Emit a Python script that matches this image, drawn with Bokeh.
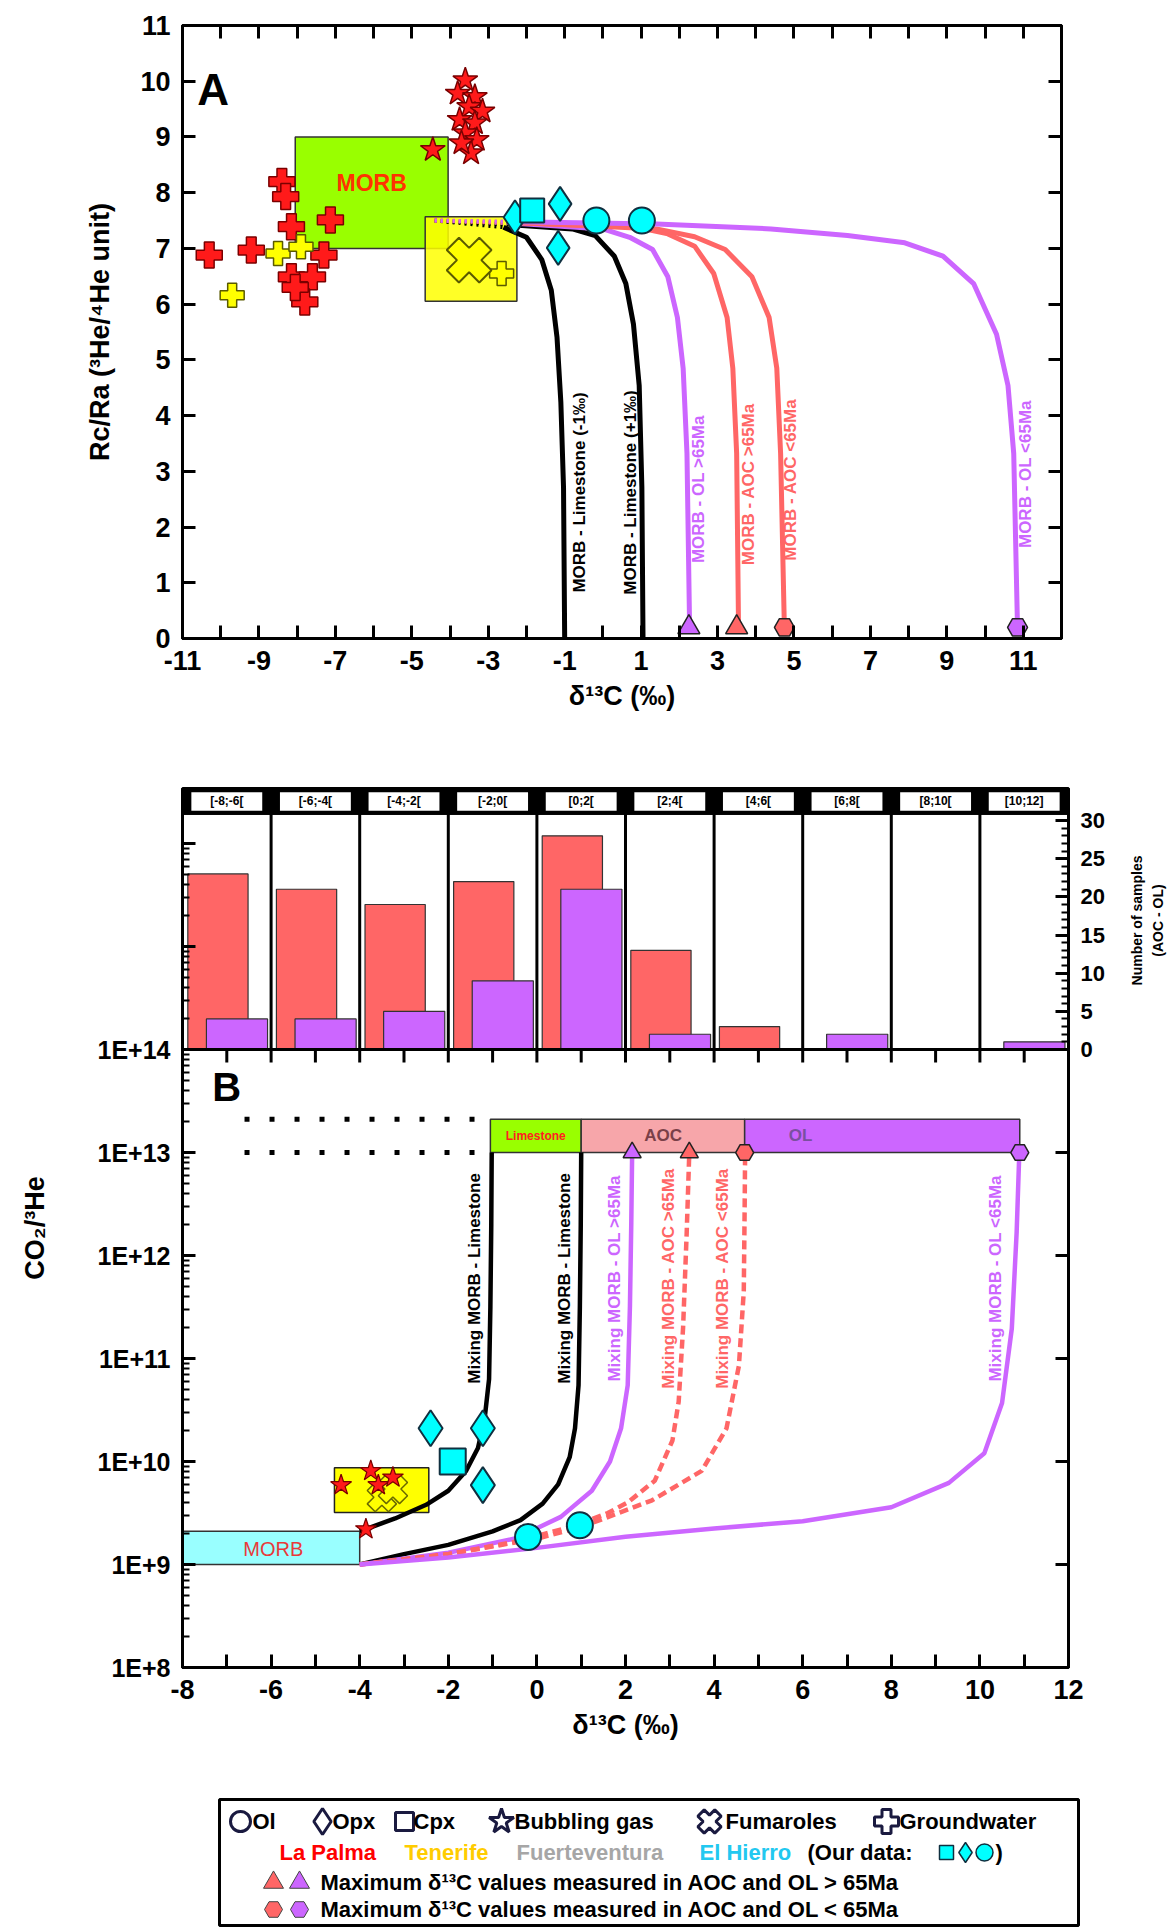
import math
from bokeh.plotting import figure
from bokeh.models import (Range1d, LinearAxis, FixedTicker, CustomJSTickFormatter, Span, LinearScale)
from bokeh.layouts import column, row
from bokeh.core.properties import value
from bokeh.embed import file_html
from bokeh.resources import INLINE

FONT = "Liberation Sans"
RED = "#FF6666"
PURPLE = "#CC66FF"
CYAN = "#00FFFF"
LP_RED = "#FF1A1A"
YEL = "#FFFF00"

# ---------------- Panel A data ----------------
A_black1_x = [-4.4, -2.6, -2.0, -1.6, -1.35, -1.2, -1.1, -1.03, -1.0]
A_black1_y = [7.5, 7.38, 7.2, 6.8, 6.25, 5.4, 4.24, 2.71, 0.0]
A_black2_x = [-4.4, -2.3, -0.8, -0.2, 0.3, 0.6, 0.8, 0.95, 1.02, 1.05]
A_black2_y = [7.5, 7.42, 7.35, 7.23, 6.86, 6.37, 5.64, 4.54, 2.71, 0.0]
A_purple1_x = [-4.4, -2.3, 0.0, 0.7, 1.3, 1.7, 1.95, 2.1, 2.2, 2.27]
A_purple1_y = [7.5, 7.45, 7.35, 7.2, 6.98, 6.49, 5.76, 4.85, 3.32, 0.15]
A_red1_x = [-4.4, -2.3, 0.9, 1.7, 2.4, 2.9, 3.25, 3.4, 3.5, 3.55]
A_red1_y = [7.5, 7.46, 7.38, 7.26, 7.04, 6.55, 5.76, 4.85, 3.32, 0.15]
A_red2_x = [-4.4, -2.3, 1.4, 2.4, 3.2, 3.9, 4.35, 4.55, 4.65, 4.75]
A_red2_y = [7.5, 7.47, 7.35, 7.21, 6.98, 6.49, 5.76, 4.85, 3.32, 0.15]
A_purple2_x = [-4.4, -2.3, 1.4, 4.4, 6.4, 7.9, 8.9, 9.7, 10.3, 10.6, 10.75, 10.85]
A_purple2_y = [7.5, 7.48, 7.44, 7.35, 7.23, 7.1, 6.86, 6.37, 5.46, 4.54, 3.32, 0.15]

A_curve_labels = ["MORB - Limestone (-1‰)", "MORB - Limestone (+1‰)", "MORB - OL >65Ma",
                  "MORB - AOC >65Ma", "MORB - AOC <65Ma", "MORB - OL <65Ma"]
A_label_x = [-0.6, 0.72, 2.5, 3.8, 4.92, 11.05]
A_label_y = [2.62, 2.62, 2.68, 2.77, 2.85, 2.95]

A_morb_box = dict(left=-8.05, right=-4.05, bottom=7.0, top=9.0)
A_tf_box = dict(left=-4.65, right=-2.25, bottom=6.05, top=7.57)

A_lp_star_x = [-4.45, -3.6, -3.8, -3.35, -3.5, -3.15, -3.75, -3.35, -3.6, -3.3, -3.45, -3.7]
A_lp_star_y = [8.77, 10.02, 9.78, 9.72, 9.54, 9.46, 9.31, 9.25, 9.07, 8.95, 8.71, 8.89]
A_lp_plus_x = [-8.4, -8.3, -8.15, -7.13, -10.3, -9.2, -7.3, -8.15, -7.6, -7.8, -8.05]
A_lp_plus_y = [8.2, 7.93, 7.39, 7.51, 6.88, 6.97, 6.88, 6.49, 6.49, 6.04, 6.3]
A_tf_plus_x = [-9.7, -8.5, -7.9, -2.65]
A_tf_plus_y = [6.16, 6.91, 7.03, 6.55]
A_tf_x_x = [-3.5]
A_tf_x_y = [6.79]
A_eh_opx_x = [-2.3, -1.12, -1.17]
A_eh_opx_y = [7.56, 7.8, 7.01]
A_eh_cpx_x = [-1.85]
A_eh_cpx_y = [7.68]
A_eh_ol_x = [-0.17, 1.02]
A_eh_ol_y = [7.5, 7.5]
A_max_old_x = [2.25, 3.5]      # triangles (>65Ma): purple OL, red AOC
A_max_new_x = [4.75, 10.85]    # hexagons (<65Ma): red AOC, purple OL

# ---------------- Histogram data ----------------
hist_edges = [-8, -6, -4, -2, 0, 2, 4, 6, 8, 10, 12]
hist_labels = ["[-8;-6[", "[-6;-4[", "[-4;-2[", "[-2;0[", "[0;2[", "[2;4[", "[4;6[", "[6;8[", "[8;10[", "[10;12]"]
hist_aoc = [23, 21, 19, 22, 28, 13, 3, 0, 0, 0]
hist_ol = [4, 4, 5, 9, 21, 2, 0, 2, 0, 1]
hist_title = ["Number of samples", "(AOC - OL)"]

# ---------------- Panel B data ----------------
B_black1_x = [-4.0, -3.2, -2.5, -2.0, -1.6, -1.33, -1.18, -1.08, -1.05, -1.03, -1.02]
B_black1_y = [2.1e9, 2.8e9, 3.8e9, 5.2e9, 8.1e9, 1.35e10, 2.6e10, 6.3e10, 3.2e11, 2.0e12, 1.0e13]
B_black2_x = [-4.0, -3.0, -2.0, -1.0, -0.37, 0.13, 0.48, 0.74, 0.86, 0.94, 0.97, 0.99, 1.0]
B_black2_y = [1.0e9, 1.26e9, 1.55e9, 2.1e9, 2.7e9, 3.9e9, 6.0e9, 1.1e10, 2.1e10, 5.5e10, 3.2e11, 2.0e12, 1.0e13]
B_purple1_x = [-4.0, -2.0, -0.47, 0.54, 1.24, 1.65, 1.9, 2.05, 2.1, 2.13, 2.15]
B_purple1_y = [1.0e9, 1.3e9, 1.8e9, 2.9e9, 5.2e9, 1.0e10, 2.1e10, 5.5e10, 3.2e11, 2.0e12, 1.0e13]
B_red1_x = [-4.0, -2.0, -0.5, 0.8, 1.6, 2.05, 2.66, 3.06, 3.2, 3.3, 3.38, 3.44]
B_red1_y = [1.0e9, 1.26e9, 1.66e9, 2.34e9, 3.16e9, 4.0e9, 6.5e9, 1.6e10, 3.8e10, 2.0e11, 1.6e12, 1.0e13]
B_red2_x = [-4.0, -2.0, 0.0, 1.04, 2.6, 3.72, 4.28, 4.56, 4.67, 4.69, 4.7]
B_red2_y = [1.0e9, 1.26e9, 1.78e9, 2.34e9, 4.2e9, 8.1e9, 2.1e10, 8.5e10, 4.5e11, 3.0e12, 1.0e13]
B_purple2_x = [-4.0, -2.0, 0.0, 2.0, 4.0, 6.0, 8.0, 9.3, 10.1, 10.5, 10.72, 10.83, 10.89]
B_purple2_y = [1.0e9, 1.17e9, 1.45e9, 1.86e9, 2.24e9, 2.63e9, 3.6e9, 6.2e9, 1.2e10, 3.7e10, 1.95e11, 1.7e12, 1.0e13]

B_curve_labels = ["Mixing MORB - Limestone", "Mixing MORB - Limestone", "Mixing MORB - OL >65Ma",
                  "Mixing MORB - AOC >65Ma", "Mixing MORB - AOC <65Ma", "Mixing MORB - OL <65Ma"]
B_label_x = [-1.4, 0.62, 1.76, 2.96, 4.2, 10.36]
B_label_y = [6.0e11, 6.0e11, 6.0e11, 6.0e11, 6.0e11, 6.0e11]

B_morb_box = dict(left=-8.0, right=-4.0, bottom=1.0e9, top=2.1e9)
B_tf_box = dict(left=-4.57, right=-2.44, bottom=3.2e9, top=8.7e9)
B_end_bottom, B_end_top = 1.0e13, 2.1e13
B_end_names = ["Limestone", "AOC", "OL"]
B_end_left = [-1.05, 1.0, 4.69]
B_end_right = [1.0, 4.69, 10.9]
B_dot_x = [-6.6, -1.1]

B_lp_star_x = [-4.42, -3.75, -3.58, -3.25, -3.86]
B_lp_star_y = [5.9e9, 8.1e9, 5.9e9, 7.0e9, 2.2e9]
B_tf_x_x = [-3.5, -3.25]
B_tf_x_y = [4.5e9, 5.4e9]
B_eh_opx_x = [-2.4, -1.22, -1.22]
B_eh_opx_y = [2.1e10, 2.1e10, 5.9e9]
B_eh_cpx_x = [-1.9]
B_eh_cpx_y = [1.0e10]
B_eh_ol_x = [-0.2, 0.97]
B_eh_ol_y = [1.85e9, 2.4e9]
B_max_old_x = [2.15, 3.44]
B_max_new_x = [4.69, 10.9]

# ---------------- helpers ----------------
BLANK = CustomJSTickFormatter(code="return '';")


def style_axis(ax, label_size="27px", tick_in=13, minor_in=0):
    ax.axis_line_width = 3
    ax.axis_line_color = "black"
    ax.major_tick_in = tick_in
    ax.major_tick_out = 0
    ax.major_tick_line_width = 3
    ax.major_tick_line_color = "black"
    ax.minor_tick_in = minor_in
    ax.minor_tick_out = 0
    ax.minor_tick_line_width = 2
    ax.minor_tick_line_color = "black"
    ax.major_label_text_font = FONT
    ax.major_label_text_font_style = "bold"
    ax.major_label_text_color = "black"
    ax.major_label_text_font_size = label_size
    ax.major_label_standoff = 12
    ax.axis_label_text_font = FONT
    ax.axis_label_text_font_style = "bold"
    ax.axis_label_text_font_size = "27px"
    ax.axis_label_text_color = "black"


def base_fig(**kw):
    p = figure(output_backend="svg", toolbar_location=None, tools="", **kw)
    p.grid.visible = False
    p.outline_line_color = "black"
    p.outline_line_width = 3
    p.background_fill_color = "white"
    p.border_fill_color = "white"
    return p


odd_fmt = CustomJSTickFormatter(code="var t = Math.round(tick); return (Math.abs(t) % 2 === 1) ? String(t) : '';")
even_fmt = CustomJSTickFormatter(code="var t = Math.round(tick); return (Math.abs(t) % 2 === 0) ? String(t) : '';")

LEFT = 182

# ================= Panel A =================
pA = base_fig(frame_width=879, frame_height=613, min_border_left=LEFT, min_border_right=100,
              min_border_top=25, min_border_bottom=140,
              x_range=Range1d(-11, 12), y_range=Range1d(0, 11))
xa_ticks = list(range(-11, 13))
ya_ticks = list(range(0, 12))
pA.xaxis.ticker = FixedTicker(ticks=xa_ticks)
pA.xaxis.formatter = odd_fmt
pA.yaxis.ticker = FixedTicker(ticks=ya_ticks)
style_axis(pA.xaxis[0])
style_axis(pA.yaxis[0])
pA.xaxis.axis_label = "δ¹³C (‰)"
pA.yaxis.axis_label = "Rc/Ra (³He/⁴He unit)"
pA.xaxis.axis_label_standoff = 8
pA.yaxis.axis_label_standoff = 22
top_a = LinearAxis(ticker=FixedTicker(ticks=xa_ticks), formatter=BLANK)
style_axis(top_a)
pA.add_layout(top_a, "above")
right_a = LinearAxis(ticker=FixedTicker(ticks=ya_ticks), formatter=BLANK)
style_axis(right_a)
pA.add_layout(right_a, "right")

# boxes
pA.quad(line_color="#333333", line_width=1.5, fill_color="#99FF00", **A_morb_box)
pA.quad(line_color="#333333", line_width=1.5, fill_color=YEL, fill_alpha=0.85, **A_tf_box)
pA.text(x=[-6.05], y=[8.18], text=["MORB"], text_font=value(FONT), text_font_style="bold",
        text_font_size="23px", text_color="#FF3300", text_align="center", text_baseline="middle")

# mixing curves
curvesA = [(A_black1_x, A_black1_y, "black"), (A_black2_x, A_black2_y, "black"),
           (A_purple1_x, A_purple1_y, PURPLE), (A_red1_x, A_red1_y, RED),
           (A_red2_x, A_red2_y, RED), (A_purple2_x, A_purple2_y, PURPLE)]
for cx, cy, col in curvesA:
    pA.line(cx[:2], cy[:2], line_color=col, line_width=4, line_dash="2 4")
    pA.line(cx[1:], cy[1:], line_color=col, line_width=5)
for (cx, cy, col), lx, ly, lt in zip(curvesA, A_label_x, A_label_y, A_curve_labels):
    pA.text(x=[lx], y=[ly], text=[lt], angle=math.pi / 2, text_font=value(FONT),
            text_font_style="bold", text_font_size="17px", text_color=col,
            text_align="center", text_baseline="middle")

# markers
pA.scatter(A_lp_plus_x, A_lp_plus_y, marker="plus", size=26, fill_color=LP_RED, line_color="#7a0000", line_width=1.5)
pA.scatter(A_tf_plus_x, A_tf_plus_y, marker="plus", size=24, fill_color=YEL, line_color="#5a5a00", line_width=1.5)
pA.scatter(A_tf_x_x, A_tf_x_y, marker="plus", angle=math.pi / 4, size=46, fill_color=YEL, line_color="#5a5a00", line_width=2)
pA.scatter(A_lp_star_x, A_lp_star_y, marker="star", size=26, fill_color=LP_RED, line_color="#7a0000", line_width=1.5)
pA.scatter(A_eh_opx_x, A_eh_opx_y, marker="diamond", size=34, fill_color=CYAN, line_color="#103040", line_width=2)
pA.scatter(A_eh_cpx_x, A_eh_cpx_y, marker="square", size=24, fill_color=CYAN, line_color="#103040", line_width=2)
pA.scatter(A_eh_ol_x, A_eh_ol_y, marker="circle", size=26, fill_color=CYAN, line_color="#103040", line_width=2)
pA.scatter(A_max_old_x, [0.2, 0.2], marker="triangle", size=22, fill_color=[PURPLE, RED], line_color="#222222", line_width=1.5)
pA.scatter(A_max_new_x, [0.2, 0.2], marker="hex", size=20, fill_color=[RED, PURPLE], line_color="#222222", line_width=1.5)
pA.text(x=[-10.2], y=[9.85], text=["A"], text_font=value(FONT), text_font_style="bold",
        text_font_size="44px", text_color="black", text_align="center", text_baseline="middle")

# ================= Panel B + histogram (shared frame) =================
LOG_BOTTOM, LOG_SPLIT, LOG_TOP = 8.0, 14.0, 16.534
HIST_TOP = 34.2
HIST_BOTTOM = -HIST_TOP * (LOG_SPLIT - LOG_BOTTOM) / (LOG_TOP - LOG_SPLIT)
B_FRAME_H = 879

pB = base_fig(frame_width=886, frame_height=B_FRAME_H, min_border_left=LEFT, min_border_right=58,
              min_border_top=10, min_border_bottom=122,
              x_range=Range1d(-8, 12), y_range=Range1d(10 ** LOG_BOTTOM, 10 ** LOG_TOP),
              y_axis_type="log")
pB.extra_y_ranges = {"hist": Range1d(HIST_BOTTOM, HIST_TOP)}
pB.extra_y_scales = {"hist": LinearScale()}

xb_ticks = list(range(-8, 13))
pB.xaxis.ticker = FixedTicker(ticks=xb_ticks)
pB.xaxis.formatter = even_fmt
style_axis(pB.xaxis[0])
pB.xaxis.axis_label = "δ¹³C (‰)"
pB.xaxis.axis_label_standoff = 8

decades = list(range(8, 17))
pB.yaxis.ticker = FixedTicker(ticks=[10.0 ** k for k in decades],
                              minor_ticks=[m * 10.0 ** k for k in decades for m in range(2, 10)])
pB.yaxis.formatter = CustomJSTickFormatter(
    code="var e = Math.round(Math.log10(tick)); return e <= 14 ? '1E+' + e : '';")
style_axis(pB.yaxis[0], label_size="25px", minor_in=7)
pB.yaxis.axis_label = "CO₂/³He"
pB.yaxis.axis_label_standoff = 45

decade_pos = [HIST_BOTTOM + (k - LOG_BOTTOM) / (LOG_TOP - LOG_BOTTOM) * (HIST_TOP - HIST_BOTTOM)
              for k in range(9, 14)]
right_b = LinearAxis(y_range_name="hist",
                     ticker=FixedTicker(ticks=[0, 5, 10, 15, 20, 25, 30] + decade_pos,
                                        minor_ticks=[i for i in range(1, 31) if i % 5]),
                     formatter=CustomJSTickFormatter(
                         code="if (tick < -0.01) return ''; return String(Math.round(tick));"))
style_axis(right_b, label_size="22px", minor_in=7)
pB.add_layout(right_b, "right")

# histogram
centers = [(a + b) / 2 for a, b in zip(hist_edges[:-1], hist_edges[1:])]
lefts = hist_edges[:-1]
widths = [b - a for a, b in zip(hist_edges[:-1], hist_edges[1:])]
pB.quad(left=[l + 0.06 * w for l, w in zip(lefts, widths)], right=[l + 0.74 * w for l, w in zip(lefts, widths)],
        bottom=0, top=hist_aoc, y_range_name="hist", fill_color=RED, line_color="#333333", line_width=1.2)
pB.quad(left=[l + 0.27 * w for l, w in zip(lefts, widths)], right=[l + 0.96 * w for l, w in zip(lefts, widths)],
        bottom=0, top=hist_ol, y_range_name="hist", fill_color=PURPLE, line_color="#333333", line_width=1.2)
pB.segment(x0=hist_edges[1:-1], y0=0, x1=hist_edges[1:-1], y1=HIST_TOP, y_range_name="hist",
           line_color="black", line_width=3)
pB.quad(left=hist_edges[0], right=hist_edges[-1], bottom=30.8, top=HIST_TOP, y_range_name="hist",
        fill_color="black", line_color="black")
pB.quad(left=[l + 0.2 for l in lefts], right=[l + w - 0.2 for l, w in zip(lefts, widths)],
        bottom=31.3, top=33.7, y_range_name="hist", fill_color="white", line_color=None)
pB.text(x=centers, y=[32.5] * len(centers), text=hist_labels, y_range_name="hist",
        text_font=value(FONT), text_font_style="bold", text_font_size="12px", text_color="black",
        text_align="center", text_baseline="middle")
pB.add_layout(Span(location=10 ** LOG_SPLIT, dimension="width", line_color="black", line_width=3))
# top ticks of panel B along the separator
tick_len = 10 ** (LOG_SPLIT - 13 / 103.0)
inner_ticks = xb_ticks[1:-1]
pB.segment(x0=inner_ticks, y0=10 ** LOG_SPLIT, x1=inner_ticks, y1=tick_len, line_color="black", line_width=3)

# end-member band
pB.segment(x0=B_dot_x[0], y0=B_end_bottom, x1=B_dot_x[1], y1=B_end_bottom, line_color="black", line_width=5, line_dash="5 20")
pB.segment(x0=B_dot_x[0], y0=B_end_top, x1=B_dot_x[1], y1=B_end_top, line_color="black", line_width=5, line_dash="5 20")
pB.quad(left=B_end_left, right=B_end_right, bottom=B_end_bottom, top=B_end_top,
        fill_color=["#99FF00", "#F7A6AA", PURPLE], line_color="#333333", line_width=1.5)
pB.text(x=[(B_end_left[0] + B_end_right[0]) / 2], y=[1.46e13], text=[B_end_names[0]], text_font=value(FONT),
        text_font_style="bold", text_font_size="12px", text_color="#FF2020", text_align="center", text_baseline="middle")
pB.text(x=[2.85], y=[1.46e13], text=[B_end_names[1]], text_font=value(FONT),
        text_font_style="bold", text_font_size="17px", text_color="#7A4048", text_align="center", text_baseline="middle")
pB.text(x=[5.95], y=[1.46e13], text=[B_end_names[2]], text_font=value(FONT),
        text_font_style="bold", text_font_size="17px", text_color="#7A50A0", text_align="center", text_baseline="middle")

# boxes
pB.quad(line_color="#333333", line_width=1.5, fill_color="#99FFFF", **B_morb_box)
pB.text(x=[-5.95], y=[1.4e9], text=["MORB"], text_font=value(FONT), text_font_size="20px",
        text_color="#E83A3A", text_align="center", text_baseline="middle")
pB.quad(line_color="#222222", line_width=1.5, fill_color=YEL, **B_tf_box)

# curves
pB.line(B_black1_x, B_black1_y, line_color="black", line_width=4.5)
pB.line(B_black2_x, B_black2_y, line_color="black", line_width=4.5)
pB.line(B_purple1_x, B_purple1_y, line_color=PURPLE, line_width=4.5)
pB.line(B_red1_x, B_red1_y, line_color=RED, line_width=4.5, line_dash="9 5")
pB.line(B_red2_x, B_red2_y, line_color=RED, line_width=4.5, line_dash="9 5")
pB.line(B_purple2_x, B_purple2_y, line_color=PURPLE, line_width=4.5)
colsB = ["black", "black", PURPLE, RED, RED, PURPLE]
for lx, ly, lt, col in zip(B_label_x, B_label_y, B_curve_labels, colsB):
    pB.text(x=[lx], y=[ly], text=[lt], angle=math.pi / 2, text_font=value(FONT),
            text_font_style="bold", text_font_size="17px", text_color=col,
            text_align="center", text_baseline="middle")

# markers
pB.scatter(B_tf_x_x, B_tf_x_y, marker="plus", angle=math.pi / 4, size=30, fill_color=YEL, line_color="#6a6a00", line_width=1.5)
pB.scatter(B_lp_star_x, B_lp_star_y, marker="star", size=22, fill_color=LP_RED, line_color="#7a0000", line_width=1.2)
pB.scatter(B_eh_opx_x, B_eh_opx_y, marker="diamond", size=36, fill_color=CYAN, line_color="#103040", line_width=2)
pB.scatter(B_eh_cpx_x, B_eh_cpx_y, marker="square", size=26, fill_color=CYAN, line_color="#103040", line_width=2)
pB.scatter(B_eh_ol_x, B_eh_ol_y, marker="circle", size=26, fill_color=CYAN, line_color="#103040", line_width=2)
pB.scatter(B_max_old_x, [B_end_bottom] * 2, marker="triangle", size=18, fill_color=[PURPLE, RED], line_color="#222222", line_width=1.5)
pB.scatter(B_max_new_x, [B_end_bottom] * 2, marker="hex", size=18, fill_color=[RED, PURPLE], line_color="#222222", line_width=1.5)
pB.text(x=[-7.0], y=[4.3e13], text=["B"], text_font=value(FONT), text_font_style="bold",
        text_font_size="40px", text_color="black", text_align="center", text_baseline="middle")

# ---- narrow side strip that carries the histogram's right-hand title ----
SIDE_W = 44
pS = base_fig(frame_width=SIDE_W, frame_height=B_FRAME_H, min_border_left=0, min_border_right=0,
              min_border_top=10, min_border_bottom=122,
              x_range=Range1d(0, SIDE_W), y_range=Range1d(0, B_FRAME_H),
              x_axis_location=None, y_axis_location=None)
pS.outline_line_color = None
title_center_y = B_FRAME_H - 132
pS.text(x=[10, 31], y=[title_center_y] * 2, text=hist_title, angle=math.pi / 2,
        text_font=value(FONT), text_font_style="bold", text_font_size="14px", text_color="black",
        text_align="center", text_baseline="middle")

# ================= Legend box =================
LW, LH = 900, 132
pL = base_fig(frame_width=LW, frame_height=LH, min_border_left=LEFT, min_border_right=80,
              min_border_top=6, min_border_bottom=2,
              x_range=Range1d(0, LW), y_range=Range1d(0, LH),
              x_axis_location=None, y_axis_location=None)
pL.outline_line_color = None
X0, Y0 = 37, 2          # lower-left corner of the legend box inside this frame
pL.quad(left=X0, right=X0 + 859, bottom=Y0, top=Y0 + 126, fill_color="white", line_color="black", line_width=3)
LEG_FS = "22px"
MK = "#1a1a40"
row1 = Y0 + 104
pL.scatter([X0 + 21], [row1], marker="circle", size=20, fill_color="white", line_color=MK, line_width=3)
pL.scatter([X0 + 103], [row1], marker="diamond", size=26, fill_color="white", line_color=MK, line_width=3)
pL.scatter([X0 + 185], [row1], marker="square", size=18, fill_color="white", line_color=MK, line_width=3)
pL.scatter([X0 + 282], [row1], marker="star", size=26, fill_color="white", line_color=MK, line_width=3)
pL.scatter([X0 + 490], [row1], marker="plus", angle=math.pi / 4, size=24, fill_color="white", line_color=MK, line_width=3)
pL.scatter([X0 + 667], [row1], marker="plus", size=24, fill_color="white", line_color=MK, line_width=3)
pL.text(x=[X0 + v for v in [33, 113, 194, 295, 506, 680]], y=[row1] * 6,
        text=["Ol", "Opx", "Cpx", "Bubbling gas", "Fumaroles", "Groundwater"],
        text_font=value(FONT), text_font_style="bold", text_font_size=LEG_FS, text_color="black",
        text_align="left", text_baseline="middle")
row2 = Y0 + 73
pL.text(x=[X0 + v for v in [60, 185, 297, 480, 588]], y=[row2] * 5,
        text=["La Palma", "Tenerife", "Fuerteventura", "El Hierro", "(Our data:"],
        text_color=["#FF0000", "#FFCC00", "#A6A6A6", "#22C8F0", "black"],
        text_font=value(FONT), text_font_style="bold", text_font_size=LEG_FS,
        text_align="left", text_baseline="middle")
pL.scatter([X0 + 727], [row2], marker="square", size=14, fill_color=CYAN, line_color="#103040", line_width=1.5)
pL.scatter([X0 + 746], [row2], marker="diamond", size=20, fill_color=CYAN, line_color="#103040", line_width=1.5)
pL.scatter([X0 + 765], [row2], marker="circle", size=17, fill_color=CYAN, line_color="#103040", line_width=1.5)
pL.text(x=[X0 + 776], y=[row2], text=[")"], text_font=value(FONT), text_font_style="bold",
        text_font_size=LEG_FS, text_color="black", text_align="left", text_baseline="middle")
row3, row4 = Y0 + 43, Y0 + 16
pL.scatter([X0 + 54, X0 + 80], [row3, row3], marker="triangle", size=20, fill_color=[RED, PURPLE], line_color="#444444", line_width=1)
pL.scatter([X0 + 54, X0 + 80], [row4, row4], marker="hex", size=18, fill_color=[RED, PURPLE], line_color="#444444", line_width=1)
pL.text(x=[X0 + 101, X0 + 101], y=[row3, row4],
        text=["Maximum δ¹³C values measured in AOC and OL > 65Ma",
              "Maximum δ¹³C values measured in AOC and OL < 65Ma"],
        text_font=value(FONT), text_font_style="bold", text_font_size=LEG_FS, text_color="black",
        text_align="left", text_baseline="middle")

layout = column(pA, row(pB, pS, spacing=0), pL, spacing=0)
open("out.html", "w").write(file_html(layout, INLINE))
